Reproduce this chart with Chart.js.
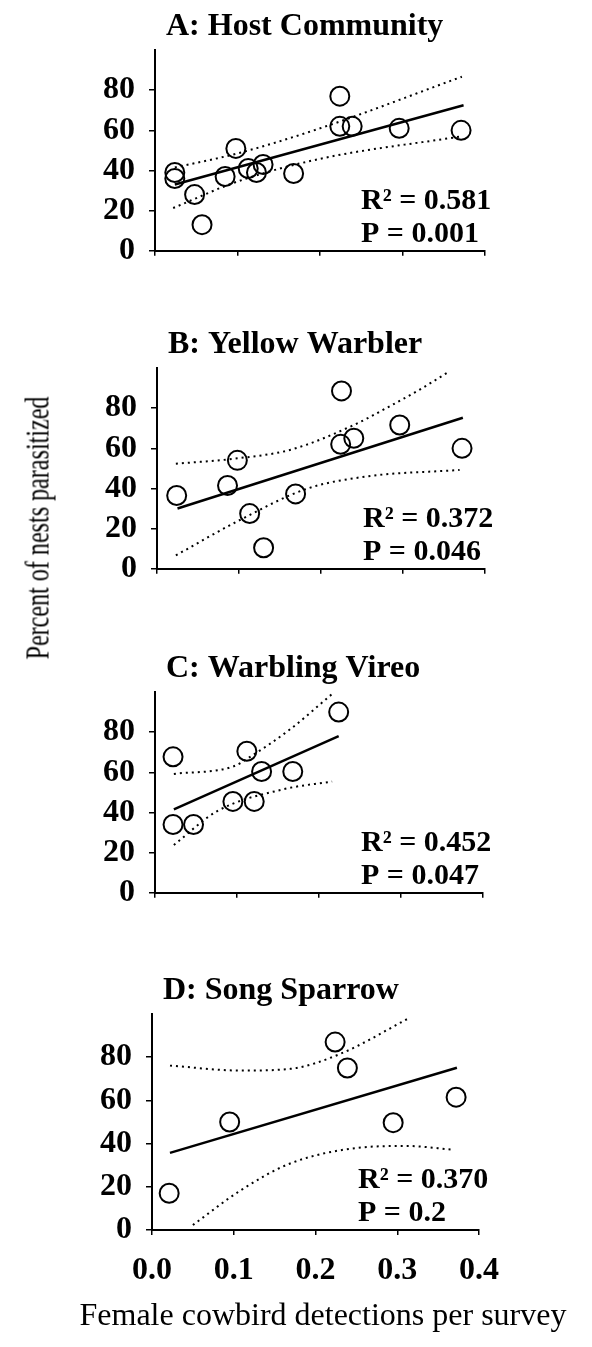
<!DOCTYPE html>
<html>
<head>
<meta charset="utf-8">
<script src="https://cdn.jsdelivr.net/npm/chart.js@4.4.0/dist/chart.umd.min.js"></script>
<style>
  body { margin: 0; background: #fff; width: 592px; height: 1347px; position: relative; overflow: hidden; }
  canvas { position: absolute; left: 0; }
  .axtitle { position: absolute; font-family: "Liberation Serif", "Times New Roman", serif; color: #000; white-space: nowrap; line-height: 1; }
  #ytitle { left: 38px; top: 528px; font-size: 33px; transform: translate(-50%, -50%) rotate(-90deg) scaleX(0.73); }
  #xtitle { left: 323px; top: 1298px; font-size: 32px; transform: translateX(-50%); }
</style>
</head>
<body>
<canvas id="chartA"></canvas>
<canvas id="chartB"></canvas>
<canvas id="chartC"></canvas>
<canvas id="chartD"></canvas>
<div class="axtitle" id="ytitle">Percent of nests parasitized</div>
<div class="axtitle" id="xtitle">Female cowbird detections per survey</div>
<script>
var titles = ["A: Host Community", "B: Yellow Warbler", "C: Warbling Vireo", "D: Song Sparrow"];
var r2Labels = ["R² = 0.581", "R² = 0.372", "R² = 0.452", "R² = 0.370"];
var pLabels = ["P = 0.001", "P = 0.046", "P = 0.047", "P = 0.2"];
var xTicks = [0, 0.1, 0.2, 0.3, 0.4];
var yTicks = [0, 20, 40, 60, 80];

// A: host community  [detections, % parasitized]
var hostPoints = [[0.024, 39], [0.024, 36], [0.048, 28], [0.057, 13], [0.085, 37], [0.098, 51],
                  [0.113, 41], [0.123, 39], [0.131, 43], [0.168, 38.5], [0.224, 77], [0.224, 62],
                  [0.239, 62], [0.296, 61], [0.371, 60]];
var hostFit = [[0.024, 33], [0.374, 72.5]];
var hostUpper = [[0.024, 41.5], [0.1, 48.5], [0.2, 61], [0.372, 86.7]];
var hostLower = [[0.022, 21.3], [0.1, 34.5], [0.2, 45.8], [0.37, 56.9]];

// B: yellow warbler
var warblerPoints = [[0.024, 36.5], [0.086, 41.5], [0.098, 54], [0.113, 27.5], [0.130, 10.5],
                     [0.169, 37.3], [0.225, 88.6], [0.224, 62], [0.240, 65], [0.296, 71.6], [0.372, 60]];
var warblerFit = [[0.025, 30], [0.373, 75.2]];
var warblerUpper = [[0.023, 52.3], [0.098, 55], [0.163, 59.3], [0.240, 71.6], [0.280, 80.1], [0.321, 89.4], [0.355, 97.9]];
var warblerLower = [[0.023, 6.7], [0.102, 24.5], [0.183, 39.9], [0.258, 46.1], [0.369, 49.2]];

// C: warbling vireo
var vireoPoints = [[0.022, 67.7], [0.022, 34], [0.047, 34], [0.095, 45.5], [0.112, 70.5],
                   [0.121, 45.5], [0.130, 60.4], [0.168, 60.4], [0.224, 90]];
var vireoFit = [[0.023, 41.5], [0.224, 78]];
var vireoUpper = [[0.023, 59.2], [0.096, 63], [0.116, 67.7], [0.165, 81.5], [0.216, 99]];
var vireoLower = [[0.023, 23.8], [0.076, 40.7], [0.156, 51.5], [0.216, 55.4]];

// D: song sparrow
var sparrowPoints = [[0.021, 17], [0.095, 50], [0.224, 87], [0.239, 75], [0.295, 49.7], [0.372, 61.5]];
var sparrowFit = [[0.022, 35.7], [0.373, 75.1]];
var sparrowUpper = [[0.022, 76.1], [0.109, 73.8], [0.169, 74.6], [0.230, 81.5], [0.314, 98]];
var sparrowLower = [[0.050, 2.3], [0.109, 18.5], [0.169, 30.8], [0.251, 38], [0.312, 38.9], [0.367, 37.2]];

var serif = '"Liberation Serif", "Times New Roman", serif';

var panels = [
  { id: "chartA", top: 0,   left: 155, right: 485, showX: false, points: hostPoints, fit: hostFit, upper: hostUpper, lower: hostLower },
  { id: "chartB", top: 318, left: 157, right: 485, showX: false, points: warblerPoints, fit: warblerFit, upper: warblerUpper, lower: warblerLower },
  { id: "chartC", top: 642, left: 155, right: 483, showX: false, points: vireoPoints, fit: vireoFit, upper: vireoUpper, lower: vireoLower },
  { id: "chartD", top: 964, left: 152, right: 479, showX: true, points: sparrowPoints, fit: sparrowFit, upper: sparrowUpper, lower: sparrowLower }
];

function toXY(arr) {
  return arr.map(function (d) { return { x: d[0], y: d[1] }; });
}

// title and R2 / P text drawn relative to the plot area
var panelText = {
  id: "panelText",
  afterDraw: function (chart, args, opts) {
    var ctx = chart.ctx, a = chart.chartArea;
    ctx.save();
    ctx.fillStyle = "#000";
    ctx.textBaseline = "alphabetic";
    ctx.font = "bold 32px " + serif;
    ctx.fillText(opts.title, a.left + 11, a.top - 15);
    ctx.font = "bold 30px " + serif;
    ctx.fillText(opts.r2, a.left + 206, a.bottom - 42);
    ctx.fillText(opts.p, a.left + 206, a.bottom - 9);
    ctx.restore();
  }
};

panels.forEach(function (p, i) {
  var plotH = 216, xH = p.showX ? 60 : 10;
  var canvas = document.getElementById(p.id);
  canvas.width = 592;
  canvas.height = 50 + plotH + xH + 8;
  canvas.style.top = p.top + "px";

  var ciStyle = { showLine: true, borderColor: "#000", borderWidth: 2, borderDash: [2, 4], pointRadius: 0, cubicInterpolationMode: "monotone", fill: false };

  new Chart(canvas, {
    type: "scatter",
    data: {
      datasets: [
        { data: toXY(p.points), pointRadius: 9.5, pointBorderWidth: 2, pointBorderColor: "#000", pointBackgroundColor: "rgba(0,0,0,0)" },
        { data: toXY(p.fit), showLine: true, borderColor: "#000", borderWidth: 2.5, pointRadius: 0 },
        Object.assign({ data: toXY(p.upper) }, ciStyle),
        Object.assign({ data: toXY(p.lower) }, ciStyle)
      ]
    },
    options: {
      responsive: false,
      animation: false,
      clip: false,
      layout: { padding: { top: 50, left: p.left - 100, right: 592 - p.right, bottom: 8 } },
      plugins: {
        legend: { display: false },
        tooltip: { enabled: false },
        panelText: { title: titles[i], r2: r2Labels[i], p: pLabels[i] }
      },
      scales: {
        x: {
          type: "linear", min: 0, max: 0.4,
          afterBuildTicks: function (s) { s.ticks = xTicks.map(function (v) { return { value: v }; }); },
          afterFit: function (s) { s.height = xH; },
          border: { color: "#000", width: 2 },
          grid: { drawOnChartArea: false, drawTicks: true, tickLength: 5, color: "#000", lineWidth: 1.5 },
          ticks: {
            display: p.showX, padding: 17, color: "#000", maxRotation: 0,
            font: { family: serif, size: 32, weight: "bold" },
            callback: function (v) { return Number(v).toFixed(1); }
          }
        },
        y: {
          min: 0, max: 100,
          afterBuildTicks: function (s) { s.ticks = yTicks.map(function (v) { return { value: v }; }); },
          afterFit: function (s) { s.width = 100; },
          border: { color: "#000", width: 2 },
          grid: { drawOnChartArea: false, drawTicks: true, tickLength: 6, color: "#000", lineWidth: 1.5 },
          ticks: { padding: 14, color: "#000", font: { family: serif, size: 32, weight: "bold" } }
        }
      }
    },
    plugins: [panelText]
  });
});
</script>
</body>
</html>
